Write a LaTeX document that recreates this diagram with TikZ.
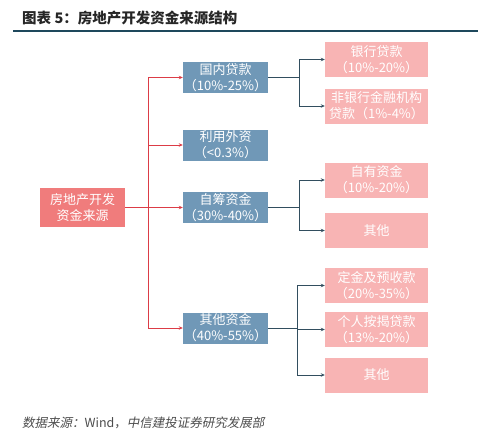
\documentclass[tikz,border=0pt]{standalone}
\usepackage{fontspec}
\setmainfont{Noto Sans CJK SC}
\newfontfamily\slantfont[FakeSlant=0.2]{Noto Sans CJK SC}
\definecolor{RootRed}{RGB}{240, 124, 124}
\definecolor{MidBlue}{RGB}{112, 152, 183}
\definecolor{LeafPink}{RGB}{248, 180, 180}
\definecolor{LineRed}{RGB}{220, 60, 70}
\definecolor{LineDark}{RGB}{50, 78, 95}
\definecolor{RuleTeal}{RGB}{30, 72, 92}
\usetikzlibrary{arrows.meta}

\begin{document}
\begin{tikzpicture}[x=1pt, y=-1pt, >={Stealth[length=4pt, width=3.5pt]},
    every node/.style={inner sep=0pt, align=center, text=white, font=\fontsize{13}{16}\selectfont},
    rootbox/.style={fill=RootRed, minimum width=85pt, minimum height=39pt},
    midbox/.style={fill=MidBlue, minimum width=85pt, minimum height=31pt},
    leafbox/.style={fill=LeafPink, minimum width=103pt, minimum height=35pt},
    redline/.style={draw=LineRed, line width=0.8pt},
    darkline/.style={draw=LineDark, line width=0.8pt}]
    \useasboundingbox (0,0) rectangle (500,439);
    % title and rule
    \node[anchor=west, text=black!85, font=\bfseries\fontsize{14.5}{16}\selectfont] (title) at (22,18) {图表 5：房地产开发资金来源结构};
    \draw[RuleTeal, line width=2pt] (13,31) -- (478,31);
    % boxes
    \node[rootbox] (root) at (82.5,207.5) {房地产开发\\资金来源};
    \node[midbox] (dom) at (225.5,77.5) {国内贷款\\（10\%-25\%）};
    \node[midbox] (foreign) at (225.5,145) {利用外资\\（<0.3\%）};
    \node[midbox] (self) at (225.5,207.5) {自筹资金\\（30\%-40\%）};
    \node[midbox] (other) at (225.5,328) {其他资金\\（40\%-55\%）};
    \node[leafbox] (bank) at (376.5,59.5) {银行贷款\\（10\%-20\%）};
    \node[leafbox] (nonbank) at (376.5,106) {非银行金融机构\\贷款（1\%-4\%）};
    \node[leafbox] (own) at (376.5,180) {自有资金\\（10\%-20\%）};
    \node[leafbox] (selfrest) at (376.5,230.5) {其他};
    \node[leafbox] (deposit) at (376.5,285.5) {定金及预收款\\（20\%-35\%）};
    \node[leafbox] (mortgage) at (376.5,329.5) {个人按揭贷款\\（13\%-20\%）};
    \node[leafbox] (otherrest) at (376.5,375) {其他};
    % connectors
    \coordinate (trunk) at (148,207.5);
    \coordinate (brdom) at (299,77.5);
    \coordinate (brself) at (299,207.5);
    \coordinate (brother) at (297,328);
    \foreach \m in {dom,foreign,self,other}
        \draw[redline,->] (root.east) -- (trunk) |- (\m.west);
    \draw[darkline] (dom.east) -- (brdom);
    \foreach \l in {bank,nonbank}
        \draw[darkline,->] (brdom) |- (\l.west);
    \draw[darkline] (self.east) -- (brself);
    \foreach \l in {own,selfrest}
        \draw[darkline,->] (brself) |- (\l.west);
    \draw[darkline] (other.east) -- (brother);
    \foreach \l in {deposit,mortgage,otherrest}
        \draw[darkline,->] (brother) |- (\l.west);
    % source
    \node[anchor=west, text=black!70, font=\fontsize{12.5}{14}\selectfont] (source) at (22,423) {\slantfont 数据来源：\normalfont Wind，\slantfont 中信建投证券研究发展部};
\end{tikzpicture}
\end{document}
